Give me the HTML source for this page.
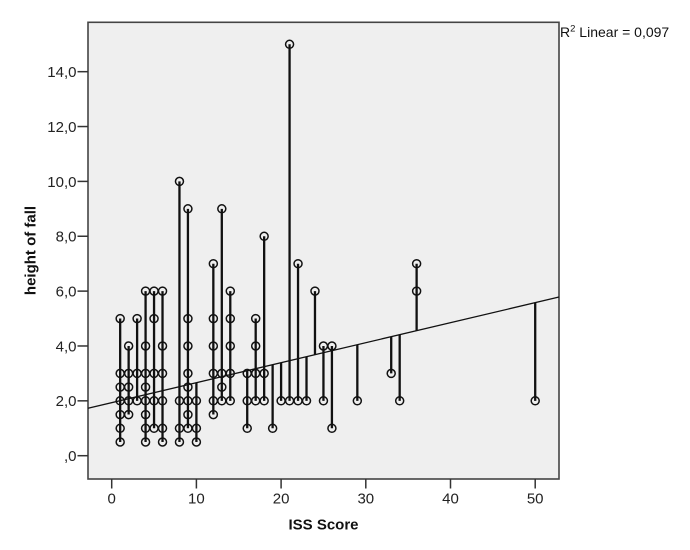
<!DOCTYPE html>
<html><head><meta charset="utf-8"><style>
html,body{margin:0;padding:0;background:#fff;}
svg{display:block;}
text{font-family:"Liberation Sans",Arial,sans-serif;fill:#222;}
</style></head><body>
<svg width="690" height="550" viewBox="0 0 690 550" xmlns="http://www.w3.org/2000/svg">
<rect x="88" y="22.3" width="471" height="456.7" fill="#efefef" stroke="#444" stroke-width="1.6"/>
<!-- y ticks -->
<g stroke="#333" stroke-width="1.5">
<line x1="77.5" y1="455.7" x2="88" y2="455.7"/>
<line x1="77.5" y1="400.84" x2="88" y2="400.84"/>
<line x1="77.5" y1="345.98" x2="88" y2="345.98"/>
<line x1="77.5" y1="291.12" x2="88" y2="291.12"/>
<line x1="77.5" y1="236.26" x2="88" y2="236.26"/>
<line x1="77.5" y1="181.4" x2="88" y2="181.4"/>
<line x1="77.5" y1="126.54" x2="88" y2="126.54"/>
<line x1="77.5" y1="71.68" x2="88" y2="71.68"/>
<line x1="111.7" y1="479" x2="111.7" y2="488.5"/>
<line x1="196.4" y1="479" x2="196.4" y2="488.5"/>
<line x1="281.1" y1="479" x2="281.1" y2="488.5"/>
<line x1="365.8" y1="479" x2="365.8" y2="488.5"/>
<line x1="450.5" y1="479" x2="450.5" y2="488.5"/>
<line x1="535.2" y1="479" x2="535.2" y2="488.5"/>
</g>
<g font-size="15" text-anchor="end">
<text x="76.5" y="461">,0</text>
<text x="76.5" y="406.2">2,0</text>
<text x="76.5" y="351.3">4,0</text>
<text x="76.5" y="296.5">6,0</text>
<text x="76.5" y="241.6">8,0</text>
<text x="76.5" y="186.8">10,0</text>
<text x="76.5" y="131.9">12,0</text>
<text x="76.5" y="77.1">14,0</text>
</g>
<g font-size="15" text-anchor="middle">
<text x="111.7" y="503.5">0</text>
<text x="196.4" y="503.5">10</text>
<text x="281.1" y="503.5">20</text>
<text x="365.8" y="503.5">30</text>
<text x="450.5" y="503.5">40</text>
<text x="535.2" y="503.5">50</text>
</g>
<text x="323.5" y="529.3" font-size="15" font-weight="bold" text-anchor="middle" style="fill:#111">ISS Score</text>
<text transform="translate(35.5,250.5) rotate(-90)" x="0" y="0" font-size="15" font-weight="bold" text-anchor="middle" style="fill:#111">height of fall</text>
<text x="560" y="37" font-size="14" style="fill:#111">R<tspan font-size="9.5" dy="-5.5">2</tspan><tspan dy="5.5"> Linear = 0,097</tspan></text>
<!-- fit line -->
<line x1="88" y1="408.3" x2="559" y2="297.05" stroke="#111" stroke-width="1.3"/>
<!-- residual lines -->
<path fill="none" stroke="#111" stroke-width="2.3" d="
M120.17 318.55V441.99
M128.64 345.98V414.56
M137.11 318.55V400.84
M145.58 291.12V441.99
M154.05 291.12V428.27
M162.52 291.12V441.99
M179.46 181.4V441.99
M187.93 208.83V428.27
M196.4 382.7V441.99
M213.34 263.69V414.56
M221.81 208.83V400.84
M230.28 291.12V400.84
M247.22 370.7V428.27
M255.69 318.55V400.84
M264.16 236.26V400.84
M272.63 364.7V428.27
M281.1 362.7V400.84
M289.57 44.25V400.84
M298.04 263.69V400.84
M306.51 356.7V400.84
M314.98 291.12V354.7
M323.45 345.98V400.84
M331.92 345.98V428.27
M357.33 344.7V400.84
M391.21 336.7V373.41
M399.68 334.7V400.84
M416.62 263.69V330.7
M535.2 302.7V400.84"/>
<!-- points -->
<g fill="none" stroke="#111" stroke-width="1.5">
<circle cx="120.17" cy="442.0" r="4"/><circle cx="120.17" cy="428.3" r="4"/><circle cx="120.17" cy="414.6" r="4"/><circle cx="120.17" cy="400.8" r="4"/><circle cx="120.17" cy="387.1" r="4"/><circle cx="120.17" cy="373.4" r="4"/><circle cx="120.17" cy="318.6" r="4"/>
<circle cx="128.64" cy="414.6" r="4"/><circle cx="128.64" cy="400.8" r="4"/><circle cx="128.64" cy="387.1" r="4"/><circle cx="128.64" cy="373.4" r="4"/><circle cx="128.64" cy="346.0" r="4"/>
<circle cx="137.11" cy="400.8" r="4"/><circle cx="137.11" cy="373.4" r="4"/><circle cx="137.11" cy="318.6" r="4"/>
<circle cx="145.58" cy="442.0" r="4"/><circle cx="145.58" cy="428.3" r="4"/><circle cx="145.58" cy="414.6" r="4"/><circle cx="145.58" cy="400.8" r="4"/><circle cx="145.58" cy="387.1" r="4"/><circle cx="145.58" cy="373.4" r="4"/><circle cx="145.58" cy="346.0" r="4"/><circle cx="145.58" cy="291.1" r="4"/>
<circle cx="154.05" cy="428.3" r="4"/><circle cx="154.05" cy="400.8" r="4"/><circle cx="154.05" cy="373.4" r="4"/><circle cx="154.05" cy="318.6" r="4"/><circle cx="154.05" cy="291.1" r="4"/>
<circle cx="162.52" cy="442.0" r="4"/><circle cx="162.52" cy="428.3" r="4"/><circle cx="162.52" cy="400.8" r="4"/><circle cx="162.52" cy="373.4" r="4"/><circle cx="162.52" cy="346.0" r="4"/><circle cx="162.52" cy="291.1" r="4"/>
<circle cx="179.46" cy="442.0" r="4"/><circle cx="179.46" cy="428.3" r="4"/><circle cx="179.46" cy="400.8" r="4"/><circle cx="179.46" cy="181.4" r="4"/>
<circle cx="187.93" cy="428.3" r="4"/><circle cx="187.93" cy="414.6" r="4"/><circle cx="187.93" cy="400.8" r="4"/><circle cx="187.93" cy="387.1" r="4"/><circle cx="187.93" cy="373.4" r="4"/><circle cx="187.93" cy="346.0" r="4"/><circle cx="187.93" cy="318.6" r="4"/><circle cx="187.93" cy="208.8" r="4"/>
<circle cx="196.4" cy="442.0" r="4"/><circle cx="196.4" cy="428.3" r="4"/><circle cx="196.4" cy="400.8" r="4"/>
<circle cx="213.34" cy="414.6" r="4"/><circle cx="213.34" cy="400.8" r="4"/><circle cx="213.34" cy="373.4" r="4"/><circle cx="213.34" cy="346.0" r="4"/><circle cx="213.34" cy="318.6" r="4"/><circle cx="213.34" cy="263.7" r="4"/>
<circle cx="221.81" cy="400.8" r="4"/><circle cx="221.81" cy="387.1" r="4"/><circle cx="221.81" cy="373.4" r="4"/><circle cx="221.81" cy="208.8" r="4"/>
<circle cx="230.28" cy="400.8" r="4"/><circle cx="230.28" cy="373.4" r="4"/><circle cx="230.28" cy="346.0" r="4"/><circle cx="230.28" cy="318.6" r="4"/><circle cx="230.28" cy="291.1" r="4"/>
<circle cx="247.22" cy="428.3" r="4"/><circle cx="247.22" cy="400.8" r="4"/><circle cx="247.22" cy="373.4" r="4"/>
<circle cx="255.69" cy="400.8" r="4"/><circle cx="255.69" cy="373.4" r="4"/><circle cx="255.69" cy="346.0" r="4"/><circle cx="255.69" cy="318.6" r="4"/>
<circle cx="264.16" cy="400.8" r="4"/><circle cx="264.16" cy="373.4" r="4"/><circle cx="264.16" cy="236.3" r="4"/>
<circle cx="272.63" cy="428.3" r="4"/>
<circle cx="281.1" cy="400.8" r="4"/>
<circle cx="289.57" cy="400.8" r="4"/><circle cx="289.57" cy="44.3" r="4"/>
<circle cx="298.04" cy="400.8" r="4"/><circle cx="298.04" cy="263.7" r="4"/>
<circle cx="306.51" cy="400.8" r="4"/>
<circle cx="314.98" cy="291.1" r="4"/>
<circle cx="323.45" cy="400.8" r="4"/><circle cx="323.45" cy="346.0" r="4"/>
<circle cx="331.92" cy="428.3" r="4"/><circle cx="331.92" cy="346.0" r="4"/>
<circle cx="357.33" cy="400.8" r="4"/>
<circle cx="391.21" cy="373.4" r="4"/>
<circle cx="399.68" cy="400.8" r="4"/>
<circle cx="416.62" cy="291.1" r="4"/><circle cx="416.62" cy="263.7" r="4"/>
<circle cx="535.2" cy="400.8" r="4"/>
</g>
</svg>
</body></html>
